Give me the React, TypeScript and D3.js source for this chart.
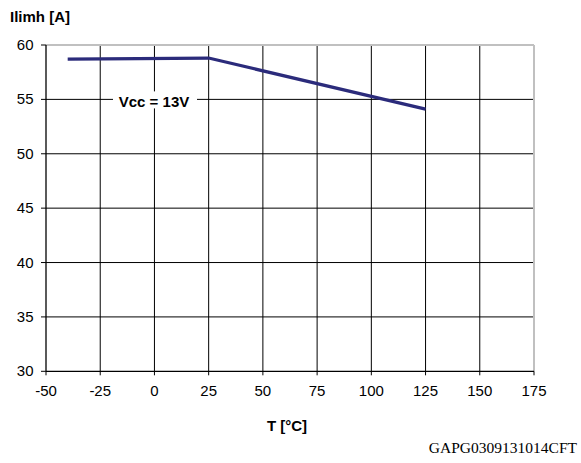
import React from "react";
import * as d3 from "d3";

const temps = [-40, 25, 125];
const currents = [58.7, 58.8, 54.1];
const xTicks = [-50, -25, 0, 25, 50, 75, 100, 125, 150, 175];
const yTicks = [30, 35, 40, 45, 50, 55, 60];

export default function App() {
  const W = 581, H = 463;
  const left = 46, right = 534, top = 45, bottom = 371.3;
  const x = d3.scaleLinear().domain([-50, 175]).range([left, right]);
  const y = d3.scaleLinear().domain([30, 60]).range([bottom, top]);
  const line = d3.line<number>().x((_, i) => x(temps[i])).y((d) => y(d));
  const font = "Arial, 'Liberation Sans', sans-serif";
  return (
    <svg width={W} height={H} style={{ position: "absolute", left: 0, top: 0 }}>
      <rect width={W} height={H} fill="#fff" />
      {xTicks.slice(1, -1).map((t) => (
        <line key={"gx" + t} x1={x(t)} x2={x(t)} y1={top} y2={bottom} stroke="#000" strokeWidth={1} />
      ))}
      {yTicks.slice(1, -1).map((t) => (
        <line key={"gy" + t} x1={left} x2={right} y1={y(t)} y2={y(t)} stroke="#000" strokeWidth={1} />
      ))}
      <line x1={left} x2={right} y1={top} y2={top} stroke="#c0c0c0" strokeWidth={2} />
      <line x1={right} x2={right} y1={top} y2={bottom} stroke="#c0c0c0" strokeWidth={2} />
      <line x1={left} x2={left} y1={top} y2={bottom} stroke="#000" strokeWidth={1.3} />
      <line x1={left} x2={right} y1={bottom} y2={bottom} stroke="#000" strokeWidth={1.3} />
      {yTicks.map((t) => (
        <g key={"yt" + t}>
          <line x1={left - 5} x2={left} y1={y(t)} y2={y(t)} stroke="#000" />
          <text x={33.5} y={y(t) + 5} textAnchor="end" fontFamily={font} fontSize={15} fill="#000">{t}</text>
        </g>
      ))}
      {xTicks.map((t) => (
        <g key={"xt" + t}>
          <line x1={x(t)} x2={x(t)} y1={bottom} y2={bottom + 4} stroke="#000" />
          <text x={x(t)} y={396} textAnchor="middle" fontFamily={font} fontSize={15} fill="#000">{t}</text>
        </g>
      ))}
      <path d={line(currents) || ""} fill="none" stroke="#2b2b7b" strokeWidth={3.2} />
      <rect x={113} y={y(55) - 8} width={84} height={17} fill="#fff" />
      <text x={154} y={107} textAnchor="middle" fontFamily={font} fontSize={15} fontWeight="bold" fill="#000">Vcc = 13V</text>
      <text x={10} y={22} fontFamily={font} fontSize={15} fontWeight="bold" fill="#000">Ilimh [A]</text>
      <text x={287} y={431} textAnchor="middle" fontFamily={font} fontSize={15} fontWeight="bold" fill="#000">T [°C]</text>
      <text x={577} y={453} textAnchor="end" fontFamily="'Liberation Serif', 'Times New Roman', serif" fontSize={15.5} fill="#000">GAPG0309131014CFT</text>
    </svg>
  );
}
